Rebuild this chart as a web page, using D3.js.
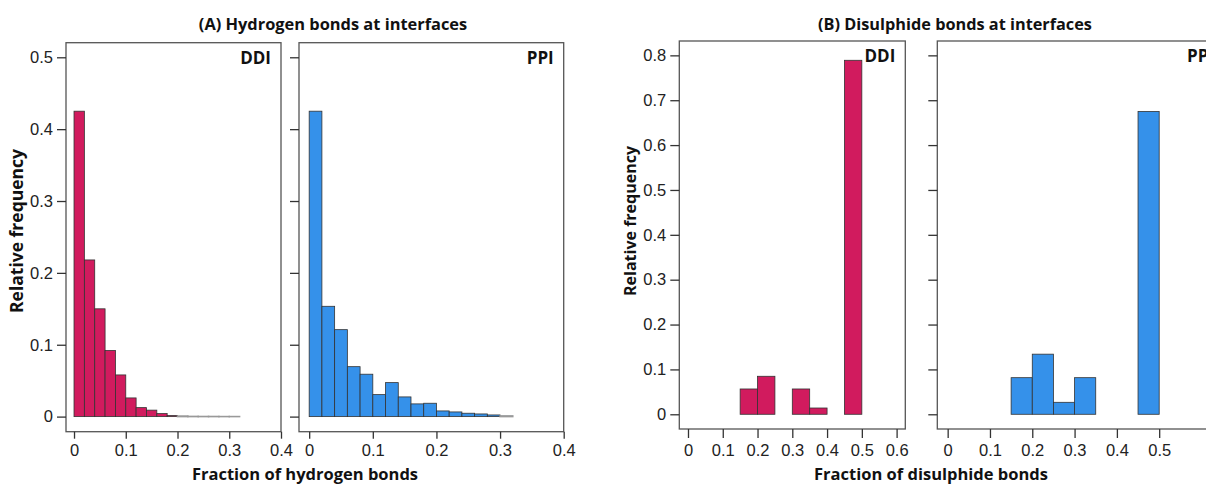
<!DOCTYPE html>
<meta charset="utf-8">
<style>
    body { margin: 0; background: #fff; }
    svg { display: block; font-family: "Open Sans", sans-serif; }
    .frame { fill: none; stroke: #555; stroke-width: 1.3; }
    .tick line { stroke: #333; stroke-width: 1.3; }
    .tick text { fill: #222; font-size: 16.5px; }
    .title, .axlabel, .tag { font-weight: bold; fill: #111; }
</style>
<body>
<script src="https://d3js.org/d3.v7.min.js"></script>
<script>

// hydrogen bond histograms (bin width 0.02)
var hBins = [0, 0.02, 0.04, 0.06, 0.08, 0.10, 0.12, 0.14, 0.16, 0.18, 0.20, 0.22, 0.24, 0.26, 0.28, 0.30];
var hDDI = [0.425, 0.218, 0.150, 0.092, 0.058, 0.026, 0.0125, 0.009, 0.0042, 0.0015, 0.0008, 0.0003, 0.0002, 0.0002, 0.0001, 0.0001];
var hPPI = [0.425, 0.1535, 0.121, 0.0695, 0.059, 0.0306, 0.0473, 0.0274, 0.0177, 0.0186, 0.0079, 0.0065, 0.0047, 0.0037, 0.0023, 0.001];
var hWidth = 0.02;

// disulphide bond histograms (bin width 0.05)
var sBins = [0.15, 0.20, 0.25, 0.30, 0.35, 0.40, 0.45];
var sDDI = [0.0564, 0.0847, 0, 0.0564, 0.014, 0, 0.789];
var sPPI = [0.0816, 0.134, 0.0267, 0.0816, 0, 0, 0.675];
var sWidth = 0.05;

var hYTicks = [0, 0.1, 0.2, 0.3, 0.4, 0.5];
var hXTicks = [0, 0.1, 0.2, 0.3, 0.4];
var sYTicks = [0, 0.1, 0.2, 0.3, 0.4, 0.5, 0.6, 0.7, 0.8];
var sXTicksDDI = [0, 0.1, 0.2, 0.3, 0.4, 0.5, 0.6];
var sXTicksPPI = [0, 0.1, 0.2, 0.3, 0.4, 0.5];

var colDDI = "#d11b5e", colPPI = "#3591ea";

var W = 1206, H = 486;
var svg = d3.select("body").append("svg")
    .attr("width", W)
    .attr("height", H);

function fmt(d) { return d === 0 ? "0" : d3.format(".1f")(d); }

function panel(o) {
    var x = d3.scaleLinear().domain(o.xd).range([o.left, o.right]);
    var y = d3.scaleLinear().domain(o.yd).range([o.bottom, o.top]);
    var g = svg.append("g");

    // bars
    g.selectAll("rect")
        .data(o.bins.map(function (b, i) { return { x0: b, v: o.vals[i] }; }))
        .enter().append("rect")
        .attr("x", function (d) { return x(d.x0); })
        .attr("width", function (d) { return x(d.x0 + o.bw) - x(d.x0); })
        .attr("y", function (d) { return y(d.v); })
        .attr("height", function (d) { return y(0) - y(d.v); })
        .attr("fill", o.color)
        .attr("stroke", function (d) { return (y(0) - y(d.v)) < 1 ? "#999" : "#333"; })
        .attr("stroke-width", function (d) { return (y(0) - y(d.v)) < 1 ? 1.5 : 0.8; });

    // frame
    g.append("rect").attr("class", "frame")
        .attr("x", o.left).attr("y", o.top)
        .attr("width", o.right - o.left).attr("height", o.bottom - o.top);

    // x axis
    var xa = d3.axisBottom(x).tickValues(o.xt).tickSize(o.xtl).tickPadding(6).tickFormat(fmt);
    g.append("g").attr("transform", "translate(0," + o.bottom + ")").call(xa)
        .call(function (s) { s.select(".domain").remove(); });

    // y axis
    var ya = d3.axisLeft(y).tickValues(o.yt).tickSize(9).tickPadding(4)
        .tickFormat(o.ylabels ? fmt : "");
    g.append("g").attr("transform", "translate(" + o.left + ",0)").call(ya)
        .call(function (s) { s.select(".domain").remove(); });

    g.append("text").attr("class", "tag")
        .attr("x", o.right - 10).attr("y", o.top + 21)
        .attr("text-anchor", "end").attr("font-size", 17)
        .text(o.tag);
}

// (A) hydrogen bonds
panel({ left: 66, right: 281, top: 42.7, bottom: 431.7, xd: [-0.0155, 0.4], yd: [-0.021, 0.5203],
    bins: hBins, vals: hDDI, bw: hWidth, color: colDDI, xt: hXTicks, yt: hYTicks, xtl: 7, ylabels: true, tag: "DDI" });
panel({ left: 299, right: 563.7, top: 42.7, bottom: 431.7, xd: [-0.016, 0.4], yd: [-0.021, 0.5203],
    bins: hBins, vals: hPPI, bw: hWidth, color: colPPI, xt: hXTicks, yt: hYTicks, xtl: 7, ylabels: false, tag: "PPI" });

// (B) disulphide bonds
panel({ left: 679.3, right: 905.3, top: 41, bottom: 429, xd: [-0.025, 0.625], yd: [-0.0328, 0.832],
    bins: sBins, vals: sDDI, bw: sWidth, color: colDDI, xt: sXTicksDDI, yt: sYTicks, xtl: 9, ylabels: true, tag: "DDI" });
panel({ left: 937.3, right: 1224, top: 41, bottom: 429, xd: [-0.0245, 0.6532], yd: [-0.0328, 0.832],
    bins: sBins, vals: sPPI, bw: sWidth, color: colPPI, xt: sXTicksPPI, yt: sYTicks, xtl: 9, ylabels: false, tag: "PPI" });

// titles and axis labels
svg.append("text").attr("class", "title").attr("x", 333).attr("y", 30)
    .attr("text-anchor", "middle").attr("font-size", 16.4).text("(A) Hydrogen bonds at interfaces");
svg.append("text").attr("class", "title").attr("x", 955).attr("y", 30)
    .attr("text-anchor", "middle").attr("font-size", 16.3).text("(B) Disulphide bonds at interfaces");

svg.append("text").attr("class", "axlabel").attr("x", 305).attr("y", 480)
    .attr("text-anchor", "middle").attr("font-size", 16.5).text("Fraction of hydrogen bonds");
svg.append("text").attr("class", "axlabel").attr("x", 931).attr("y", 480)
    .attr("text-anchor", "middle").attr("font-size", 16.5).text("Fraction of disulphide bonds");

svg.append("text").attr("class", "axlabel")
    .attr("transform", "translate(23,231) rotate(-90)")
    .attr("text-anchor", "middle").attr("font-size", 17.5).text("Relative frequency");
svg.append("text").attr("class", "axlabel")
    .attr("transform", "translate(636,221) rotate(-90)")
    .attr("text-anchor", "middle").attr("font-size", 16).text("Relative frequency");

</script>
</body>
